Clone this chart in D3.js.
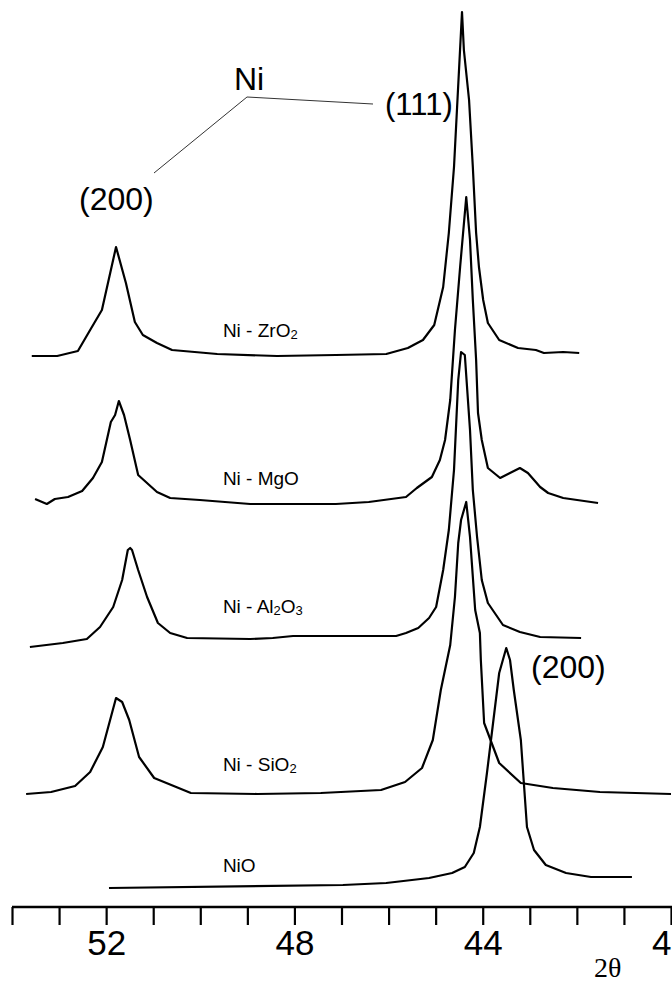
<!DOCTYPE html>
<html>
<head>
<meta charset="utf-8">
<script src="https://cdn.jsdelivr.net/npm/d3@7"></script>
<style>
  html, body { margin: 0; padding: 0; background: #fff; }
  svg { display: block; }
  .trace { fill: none; stroke: #000; stroke-width: 2.2; stroke-linejoin: round; }
  .lbl { font-family: "Liberation Sans", Arial, sans-serif; fill: #000; }
</style>
</head>
<body>
<div id="graph"></div>
<script>
// XRD patterns, 2theta (deg) and counts above each pattern's own baseline

var zro2Theta  = [53.58, 53.04, 52.60, 52.34, 52.09, 51.79, 51.58, 51.39, 51.22, 50.92, 50.60, 49.64, 48.37, 47.12, 46.05, 45.59, 45.27, 45.03, 44.84, 44.72, 44.61, 44.44, 44.40, 44.29, 44.21, 44.14, 44.08, 43.99, 43.89, 43.65, 43.25, 42.87, 42.70, 42.29, 41.95];
var zro2Counts = [0, 0, 5, 26, 46, 109, 73, 34, 21, 13, 6, 2, 0, 1, 2, 8, 16, 31, 69, 123, 189, 344, 306, 256, 189, 123, 89, 56, 33, 16, 8, 6, 3, 4, 3];

var mgoTheta  = [53.51, 53.26, 53.09, 52.81, 52.51, 52.28, 52.09, 51.90, 51.81, 51.73, 51.62, 51.49, 51.32, 50.92, 50.64, 50.01, 48.94, 47.12, 46.42, 45.63, 45.40, 45.08, 44.91, 44.80, 44.69, 44.59, 44.48, 44.35, 44.27, 44.21, 44.14, 44.10, 44.02, 43.89, 43.63, 43.21, 43.04, 42.78, 42.61, 42.29, 41.55];
var mgoCounts = [5, 0, 5, 7, 13, 26, 42, 82, 89, 103, 89, 64, 29, 12, 6, 4, 0, 0, 2, 7, 16, 27, 44, 64, 104, 174, 237, 307, 264, 204, 144, 91, 64, 36, 26, 36, 31, 17, 11, 6, 1];

var al2o3Theta  = [53.62, 52.92, 52.41, 52.13, 51.85, 51.66, 51.54, 51.49, 51.45, 51.32, 51.13, 50.90, 50.64, 50.28, 48.94, 48.46, 48.03, 47.12, 45.84, 45.63, 45.37, 45.14, 44.99, 44.84, 44.72, 44.61, 44.52, 44.46, 44.38, 44.27, 44.21, 44.12, 44.02, 43.89, 43.57, 43.21, 42.78, 41.91];
var al2o3Counts = [-9, -5, -1, 11, 31, 58, 88, 90, 88, 68, 41, 15, 5, 0, -1, 0, 2, 2, 2, 5, 10, 20, 31, 68, 108, 168, 258, 286, 283, 208, 148, 101, 58, 35, 13, 6, 1, 0];

var sio2Theta  = [53.70, 53.17, 52.66, 52.34, 52.07, 51.79, 51.66, 51.51, 51.30, 50.98, 50.20, 48.79, 47.44, 46.16, 45.65, 45.29, 45.06, 44.89, 44.69, 44.59, 44.52, 44.46, 44.35, 44.27, 44.16, 44.06, 44.04, 43.97, 43.65, 43.19, 42.51, 41.51, 40.00];
var sio2Counts = [0, 2, 8, 22, 47, 96, 92, 74, 37, 16, 1, 0, 1, 4, 12, 26, 54, 104, 149, 197, 251, 274, 292, 257, 184, 161, 134, 71, 31, 11, 6, 2, 0];

var nioTheta  = [51.94, 46.97, 46.05, 45.14, 44.65, 44.38, 44.19, 44.06, 43.91, 43.78, 43.65, 43.50, 43.42, 43.34, 43.19, 43.06, 42.91, 42.66, 42.23, 41.70, 40.83];
var nioCounts = [0, 3, 5, 10, 15, 21, 35, 61, 115, 165, 215, 240, 228, 198, 148, 61, 38, 23, 15, 11, 11];

// vertical shift of each pattern (counts)
var offsets = [551, 403, 269, 113, 19];

// sample names, [text, subscript?] pieces
var sampleLabels = [
  [["Ni - ZrO", false], ["2", true]],
  [["Ni - MgO", false]],
  [["Ni - Al", false], ["2", true], ["O", false], ["3", true]],
  [["Ni - SiO", false], ["2", true]],
  [["NiO", false]]
];

var axisTicks = [54, 53, 52, 51, 50, 49, 48, 47, 46, 45, 44, 43, 42, 41, 40];
var axisLabels = [52, 48, 44, 40];

var patterns = [
  { theta: zro2Theta,  counts: zro2Counts },
  { theta: mgoTheta,   counts: mgoCounts },
  { theta: al2o3Theta, counts: al2o3Counts },
  { theta: sio2Theta,  counts: sio2Counts },
  { theta: nioTheta,   counts: nioCounts }
];

var width = 672;
var height = 982;
var axisY = 907;

var svg = d3.select("#graph").
  append("svg").
  attr("width", width).
  attr("height", height).
  style("background", "#fff");

var xScale = d3.scaleLinear().
  domain([54, 40]).
  range([12, 671]);

var yScale = d3.scaleLinear().
  domain([0, 900]).
  range([axisY, axisY - 900]);

var line = d3.line().
  x(function (d) { return xScale(d[0]); }).
  y(function (d) { return yScale(d[1]); });

// traces
svg.selectAll("path.trace").
  data(patterns).
  enter().
  append("path").
  attr("class", "trace").
  attr("d", function (p, i) {
    var pts = p.theta.map(function (t, j) { return [t, p.counts[j] + offsets[i]]; });
    return line(pts);
  });

// sample names, sitting just above each baseline
var labelLift = [19, 19, 25, 23, 16];
var names = svg.selectAll("text.name").
  data(sampleLabels).
  enter().
  append("text").
  attr("class", "lbl name").
  attr("x", xScale(49.52)).
  attr("y", function (d, i) { return yScale(offsets[i] + labelLift[i]); }).
  style("font-size", "19px");

names.each(function (parts) {
  var t = d3.select(this);
  parts.forEach(function (p, k) {
    var ts = t.append("tspan").text(p[0]);
    if (p[1]) {
      ts.style("font-size", "13px").attr("dy", 2);
    } else if (k > 0) {
      ts.attr("dy", -2);
    }
  });
});

// peak annotations
function note(txt, x, y, size) {
  svg.append("text").
    attr("class", "lbl").
    attr("x", x).
    attr("y", y).
    style("font-size", size + "px").
    text(txt);
}
note("Ni", 234, 90, 32);
note("(200)", 79, 210, 32);
note("(111)", 385, 115, 31);
note("(200)", 531, 678, 32);

svg.append("path").
  attr("d", "M154,173 L247,97 L373,104").
  attr("fill", "none").
  attr("stroke", "#333").
  attr("stroke-width", 1);

// x axis
var xAxis = d3.axisBottom(xScale).
  tickValues(axisTicks).
  tickSize(18).
  tickSizeOuter(0).
  tickPadding(5).
  tickFormat(function (d) { return axisLabels.indexOf(d) >= 0 ? d : ""; });

var gx = svg.append("g").
  attr("id", "x-axis").
  attr("transform", "translate(0," + axisY + ")").
  call(xAxis);

gx.select(".domain").
  attr("d", "M" + xScale(54) + ",0H" + width).
  attr("stroke", "#000").
  attr("stroke-width", 2.6);
gx.selectAll(".tick line").
  attr("stroke", "#000").
  attr("stroke-width", 2.2);
gx.selectAll(".tick text").
  attr("fill", "#000").
  style("font-family", "Liberation Sans, Arial, sans-serif").
  style("font-size", "35px");

svg.append("text").
  attr("x", 594).
  attr("y", 977).
  style("font-family", "Liberation Serif, Times New Roman, serif").
  style("font-size", "28px").
  text("2θ");
</script>
</body>
</html>
